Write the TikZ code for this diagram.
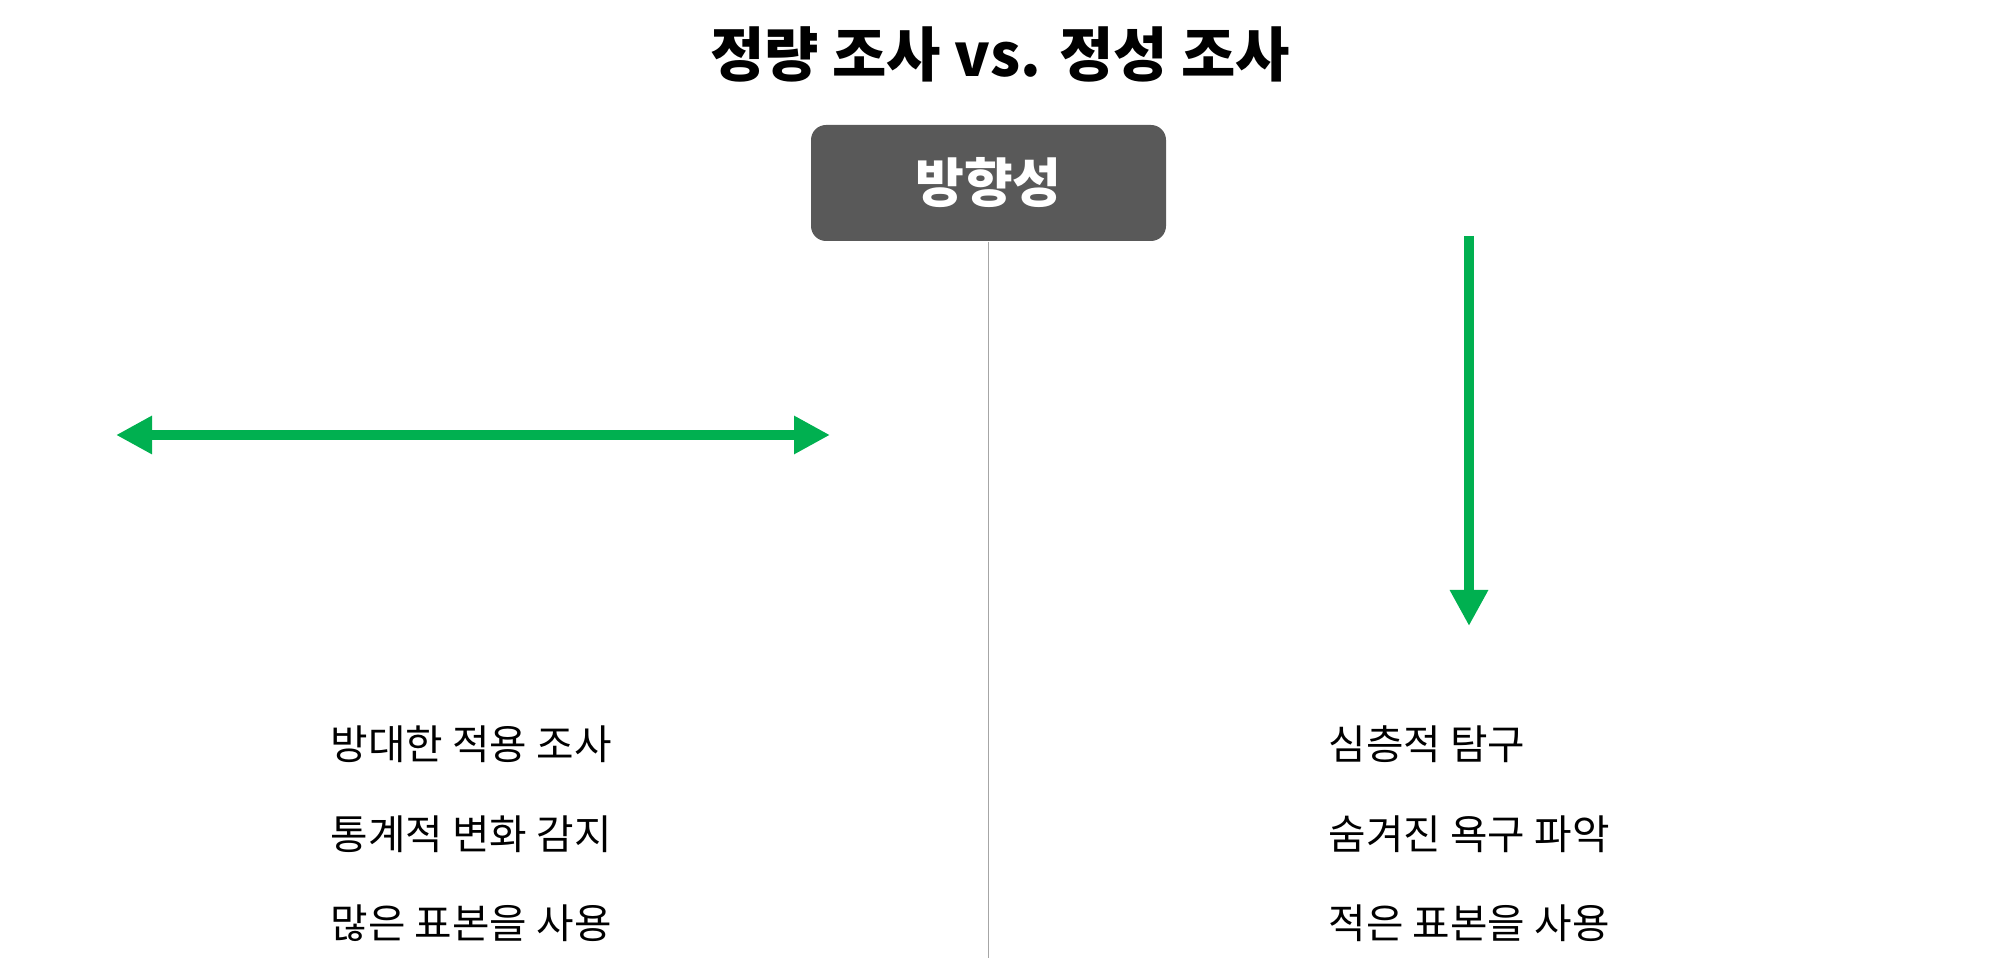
\documentclass[tikz,border=0pt]{standalone}
\usepackage{fontspec}
\setmainfont{Noto Sans CJK KR}
\usetikzlibrary{arrows.meta}
\definecolor{arrowgreen}{HTML}{00B050}
\definecolor{boxgray}{HTML}{595959}
\definecolor{rulegray}{HTML}{A6A6A6}
\begin{document}
\begin{tikzpicture}[
    greenarrow/.style={line width=3.1pt, draw=arrowgreen, arrows={-Triangle[length=0.36cm, width=0.36cm]}},
    itemtext/.style={anchor=west, inner sep=0pt, font=\fontsize{11.6}{13}\selectfont}
  ]
  \useasboundingbox (0,0) rectangle (20,-9.71);
  \node[font=\fontsize{16.8}{20}\selectfont\bfseries] (title) at (10.0,-0.54) {정량 조사 vs. 정성 조사};
  \node[fill=boxgray, rounded corners=0.15cm, minimum width=3.55cm, minimum height=1.16cm,
        text=white, font=\fontsize{15.1}{17}\selectfont\bfseries] (dir) at (9.885,-1.83) {방향성};
  \coordinate (divend) at (9.885,-9.58);
  \draw[rulegray, line width=0.35pt] (dir.south) -- (divend);
  % left: wide reach
  \coordinate (wideL) at (1.16,-4.35);
  \coordinate (wideR) at (8.30,-4.35);
  \draw[greenarrow, arrows={Triangle[length=0.36cm, width=0.36cm]-Triangle[length=0.36cm, width=0.36cm]}] (wideL) -- (wideR);
  % right: depth
  \coordinate (deepT) at (14.69,-2.36);
  \coordinate (deepB) at (14.69,-6.26);
  \draw[greenarrow] (deepT) -- (deepB);
  \foreach \y/\l/\r [count=\i] in {-7.44/방대한 적용 조사/심층적 탐구, -8.34/통계적 변화 감지/숨겨진 욕구 파악, -9.23/많은 표본을 사용/적은 표본을 사용} {
    \node[itemtext] (quan\i) at (3.30,\y) {\l};
    \node[itemtext] (qual\i) at (13.28,\y) {\r};
  }
\end{tikzpicture}
\end{document}
